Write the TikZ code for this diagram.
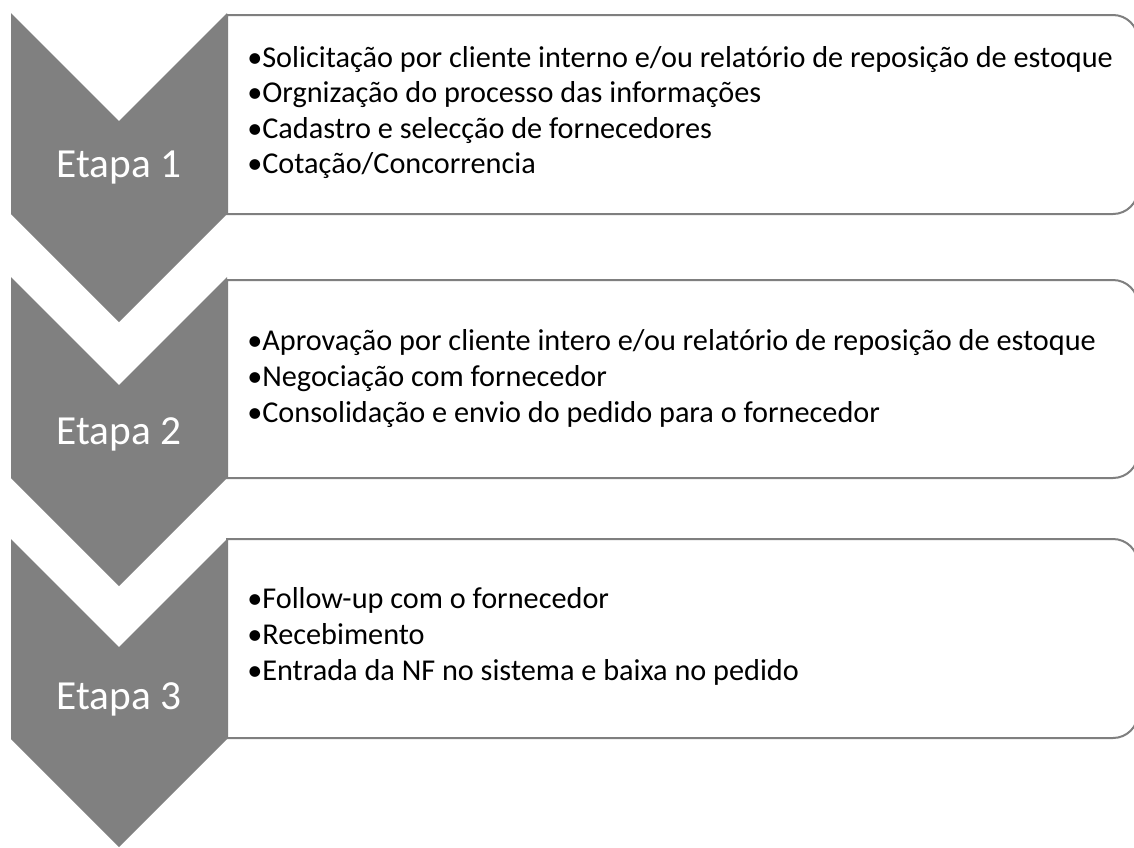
\documentclass[tikz,border=0pt]{standalone}
\usepackage{fontspec}
\setmainfont{Carlito}
\definecolor{chev}{HTML}{808080}
\definecolor{boxline}{HTML}{7F7F7F}
\tikzset{
  chevron/.style={fill=chev, draw=none},
  stepframe/.style={draw=boxline, line width=1.5pt, fill=white},
  etapa/.style={font=\fontsize{31}{31}\selectfont, text=white, anchor=base, inner sep=0pt},
  itemtext/.style={font=\fontsize{22.7}{26}\selectfont, text=black, anchor=base west, inner sep=0pt},
}
\newcommand{\chevronshape}[2]{% top, bottom
  \fill[chevron] (11,#1) -- (119,#1+108) -- (227,#1) -- (227,#2) -- (119,#2+108) -- (11,#2) -- cycle;}
\newcommand{\stepbox}[2]{% top, bottom
  \draw[stepframe] (227,#2) -- (227,#1) -- (1113,#1)
    arc[start angle=-90, end angle=0, radius=25] -- (1138,#2-25)
    arc[start angle=0, end angle=90, radius=25] -- cycle;}
\begin{document}
\begin{tikzpicture}[x=0.75pt, y=-0.75pt]
\useasboundingbox (0,0) rectangle (1134,847);
\begin{scope}
\clip (0,0) rectangle (1134,847);
% boxes
\stepbox{15}{214}
\stepbox{280}{478}
\stepbox{539}{738}
% chevrons
\chevronshape{13}{214}
\chevronshape{277}{478}
\chevronshape{539}{739}
\end{scope}
% stage labels
\node[etapa] (e1) at (119,177) {Etapa 1};
\node[etapa] (e2) at (119,444) {Etapa 2};
\node[etapa] (e3) at (119,709) {Etapa 3};
% box 1
\node[itemtext] (b1a) at (247,67) {•Solicitação por cliente interno e/ou relatório de reposição de estoque};
\node[itemtext] (b1b) at (247,102.5) {•Orgnização do processo das informações};
\node[itemtext] (b1c) at (247,138) {•Cadastro e selecção de fornecedores};
\node[itemtext] (b1d) at (247,173.5) {•Cotação/Concorrencia};
% box 2
\node[itemtext] (b2a) at (247,350) {•Aprovação por cliente intero e/ou relatório de reposição de estoque};
\node[itemtext] (b2b) at (247,386) {•Negociação com fornecedor};
\node[itemtext] (b2c) at (247,422) {•Consolidação e envio do pedido para o fornecedor};
% box 3
\node[itemtext] (b3a) at (247,608) {•Follow-up com o fornecedor};
\node[itemtext] (b3b) at (247,644) {•Recebimento};
\node[itemtext] (b3c) at (247,680) {•Entrada da NF no sistema e baixa no pedido};
\end{tikzpicture}
\end{document}
